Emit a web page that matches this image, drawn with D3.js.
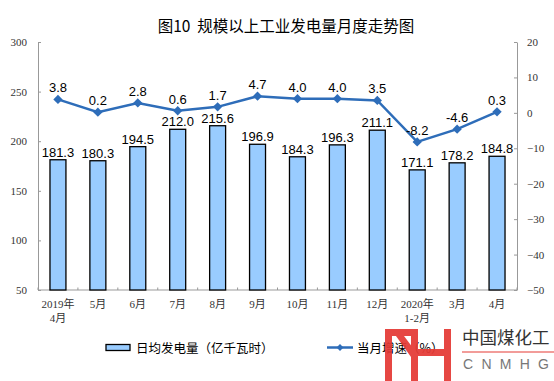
<!DOCTYPE html>
<html><head><meta charset="utf-8">
<script src="https://cdn.jsdelivr.net/npm/d3@7"></script>
<style>body{margin:0;background:#fff}svg{display:block}</style>
</head><body>
<svg id="c" width="554" height="381"></svg>
<script>
const categories = ["2019年\n4月","5月","6月","7月","8月","9月","10月","11月","12月","2020年\n1-2月","3月","4月"];
const dailyOutput = [181.3,180.3,194.5,212.0,215.6,196.9,184.3,196.3,211.1,171.1,178.2,184.8];
const growthRate = [3.8,0.2,2.8,0.6,1.7,4.7,4.0,4.0,3.5,-8.2,-4.6,0.3];
const leftTicks = [50,100,150,200,250,300];
const rightTicks = [-50,-40,-30,-20,-10,0,10,20];

const svg = d3.select("#c");
const L = 38, R = 517, T = 42, B = 290;
const x = d3.scaleBand().domain(categories).range([L, R]).paddingInner(0.6).paddingOuter(0.3);
const yL = d3.scaleLinear().domain([50,300]).range([B, T]);
const yR = d3.scaleLinear().domain([-50,20]).range([B, T]);
const blue = "#2E6DB9", barFill = "#99CCFF";
const serif = "'Liberation Serif','Times New Roman',serif";
const sans = "'Liberation Sans',Arial,'Noto Sans CJK SC',sans-serif";
const cjk = "'Noto Sans CJK SC',sans-serif";

// title
svg.append("text").attr("x", 286).attr("y", 32).attr("text-anchor","middle")
  .style("font-family", cjk).style("font-size","15.5px").style("white-space","pre").attr("fill","#000")
  .text("图10  规模以上工业发电量月度走势图");

// axes
const axL = d3.axisLeft(yL).tickValues(leftTicks).tickSizeInner(-3).tickSizeOuter(0).tickPadding(14);
const gL = svg.append("g").attr("transform",`translate(${L},0)`).call(axL);
const axR = d3.axisRight(yR).tickValues(rightTicks).tickSizeInner(-3).tickSizeOuter(0).tickPadding(10);
const gR = svg.append("g").attr("transform",`translate(${R},0)`).call(axR);
[gL,gR].forEach(g=>{
  g.select(".domain").attr("stroke","#999");
  g.selectAll(".tick line").attr("stroke","#999");
  g.selectAll(".tick text").style("font-family",serif).style("font-size","11px").attr("fill","#333");
});
gL.selectAll(".tick text").attr("dx", 3);

// x baseline and ticks
svg.append("line").attr("x1",L).attr("x2",R).attr("y1",B).attr("y2",B).attr("stroke","#999");
const step = x.step();
svg.append("g").selectAll("line").data(d3.range(categories.length+1)).join("line")
  .attr("x1", i => L + i*step).attr("x2", i => L + i*step)
  .attr("y1", B).attr("y2", B-2.5).attr("stroke","#999");

// bars
svg.append("g").selectAll("rect").data(dailyOutput).join("rect")
  .attr("x",(d,i)=>x(categories[i])).attr("width",x.bandwidth())
  .attr("y",d=>yL(d)).attr("height",d=>B-yL(d))
  .attr("fill",barFill).attr("stroke","#000").attr("stroke-width",1.3);

svg.append("g").selectAll("text").data(dailyOutput).join("text")
  .attr("x",(d,i)=>x(categories[i])+x.bandwidth()/2).attr("y",d=>yL(d)-3)
  .attr("text-anchor","middle").style("font-family",sans).style("font-size","13px").attr("fill","#000")
  .text(d=>d.toFixed(1));

// line
const cx = i => x(categories[i]) + x.bandwidth()/2;
const line = d3.line().x((d,i)=>cx(i)).y(d=>yR(d));
svg.append("path").datum(growthRate).attr("d",line).attr("fill","none").attr("stroke",blue).attr("stroke-width",2.5);
const diamond = d3.symbol().type(d3.symbolDiamond2).size(55);
svg.append("g").selectAll("path").data(growthRate).join("path")
  .attr("transform",(d,i)=>`translate(${cx(i)},${yR(d)})`).attr("d",diamond).attr("fill",blue);
svg.append("g").selectAll("text").data(growthRate).join("text")
  .attr("x",(d,i)=>cx(i)).attr("y",d=>yR(d)-7)
  .attr("text-anchor","middle").style("font-family",sans).style("font-size","13px").attr("fill","#000")
  .text(d=>d.toFixed(1));

// x labels
const xl = svg.append("g");
categories.forEach((c,i)=>{
  const t = xl.append("text").attr("text-anchor","middle").style("font-family",serif+",'Noto Sans CJK SC'")
    .style("font-size","11px").attr("fill","#333");
  c.split("\n").forEach((s,j)=>{
    t.append("tspan").attr("x",cx(i)).attr("y",308+j*13.5).text(s);
  });
});

// legend
svg.append("rect").attr("x",106).attr("y",344.5).attr("width",24).attr("height",6)
  .attr("fill",barFill).attr("stroke","#000").attr("stroke-width",1.3);
svg.append("text").attr("x",136).attr("y",352.5).style("font-family",cjk).style("font-size","12.5px").attr("fill","#000")
  .text("日均发电量（亿千瓦时）");
svg.append("line").attr("x1",327).attr("x2",353).attr("y1",347.5).attr("y2",347.5).attr("stroke",blue).attr("stroke-width",2.5);
svg.append("path").attr("transform","translate(340,347.5)").attr("d",d3.symbol().type(d3.symbolDiamond2).size(30)).attr("fill",blue);
svg.append("text").attr("x",357).attr("y",352.5).style("font-family",cjk).style("font-size","12.5px").attr("fill","#000")
  .text("当月增速（%）");

// watermark logo
const wm = svg.append("g").attr("opacity",0.93).attr("fill","#E53A35");
wm.append("rect").attr("x",385).attr("y",329).attr("width",7).attr("height",52);   // left vertical
wm.append("rect").attr("x",385).attr("y",329).attr("width",33).attr("height",7);   // top bar
wm.append("path").attr("d","M396,336 L404,336 L416,352 L411,357 Z");              // diagonal
wm.append("rect").attr("x",411).attr("y",329).attr("width",7).attr("height",52);   // middle vertical
wm.append("rect").attr("x",418).attr("y",349).attr("width",27).attr("height",7);   // crossbar
wm.append("rect").attr("x",444).attr("y",329).attr("width",7).attr("height",52);   // right vertical
svg.append("text").attr("x",462).attr("y",344).style("font-family",cjk).style("font-size","17.5px").attr("fill","#333")
  .text("中国煤化工");
svg.append("line").attr("x1",462).attr("x2",554).attr("y1",352).attr("y2",352).attr("stroke","#E53A35").attr("stroke-width",1.2);
svg.append("text").attr("x",463).attr("y",369).style("font-family",sans).style("font-size","14px").attr("fill","#777")
  .attr("textLength",86).attr("lengthAdjust","spacing").text("CNMHG");
</script>
</body></html>
